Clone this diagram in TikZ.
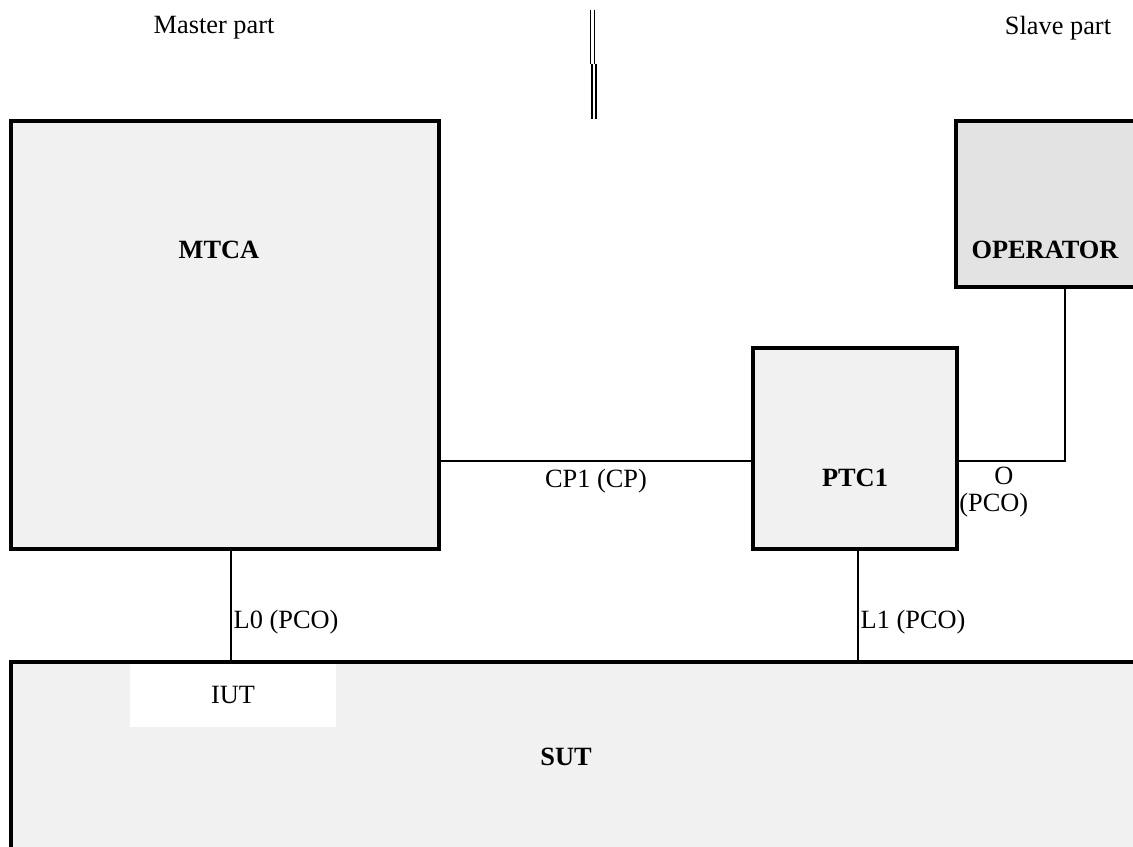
\documentclass[tikz,border=0pt]{standalone}
\usepackage{fontspec}
\setmainfont{Liberation Serif}
\usetikzlibrary{positioning}
\definecolor{boxgray}{RGB}{241,241,241}
\definecolor{opgray}{RGB}{227,227,227}

\begin{document}
\begin{tikzpicture}[x=0.02cm, y=-0.02cm,
  txt/.style={font=\fontsize{15}{17}\selectfont},
  bold/.style={font=\fontsize{15}{17}\selectfont\bfseries},
  box/.style={draw, line width=2.3pt, fill=boxgray, inner sep=0pt},
  link/.style={line width=1.1pt},
  every node/.style={txt}]
  \clip (0,0) rectangle (1133,847);
  \fill[white] (0,0) rectangle (1133,847);
  \node (master) at (214,28) {Master part};
  \node (slave) at (1058,28) {Slave part};
  \draw[link, double, double distance=1.2pt] (592.5,10) -- (592.5,64);
  \draw[link, double, double distance=1.2pt] (594,64) -- (594,119);
  \node[box, minimum width=8.56cm, minimum height=8.56cm,
        label={[bold, yshift=1.7cm, xshift=-0.12cm]center:MTCA}]
    (mtca) at (225,335) {};
  \node[box, minimum width=4.08cm, minimum height=4.02cm,
        label={[bold, yshift=-0.58cm]center:PTC1}]
    (ptc1) at (855,448.5) {};
  \node[box, fill=opgray, minimum width=3.68cm, minimum height=3.32cm,
        label={[bold, yshift=-0.92cm, xshift=-0.06cm]center:OPERATOR}]
    (operator) at (1048,204) {};
  \node[box, minimum width=22.58cm, minimum height=4cm,
        label={[bold, yshift=0.1cm, xshift=-0.19cm]center:SUT}]
    (sut) at (575.5,762) {};
  \node[fill=white, minimum width=4.12cm, minimum height=1.26cm, inner sep=0pt]
    (iut) at (233,695.5) {IUT};
  \draw[link] (mtca.east |- 0,461) -- node[below, inner sep=4pt] (cplabel) {CP1 (CP)}
    (ptc1.west |- 0,461);
  \draw[link] ([xshift=0.12cm]mtca.south) -- node[pos=0.65, right, inner sep=1pt] (lzero) {L0 (PCO)}
    ([xshift=0.12cm]mtca.south |- sut.north);
  \draw[link] ([xshift=0.06cm]ptc1.south) -- node[pos=0.65, right, inner sep=1pt] (lone) {L1 (PCO)}
    ([xshift=0.06cm]ptc1.south |- sut.north);
  \draw[link] (ptc1.east |- 0,461) -| ([xshift=0.34cm]operator.south);
  \node[anchor=north west, align=left, inner sep=0pt, font=\fontsize{15}{14}\selectfont]
    (olabel) at (959,467) {\hspace*{20pt}O\\[1pt](PCO)};
\end{tikzpicture}
\end{document}
